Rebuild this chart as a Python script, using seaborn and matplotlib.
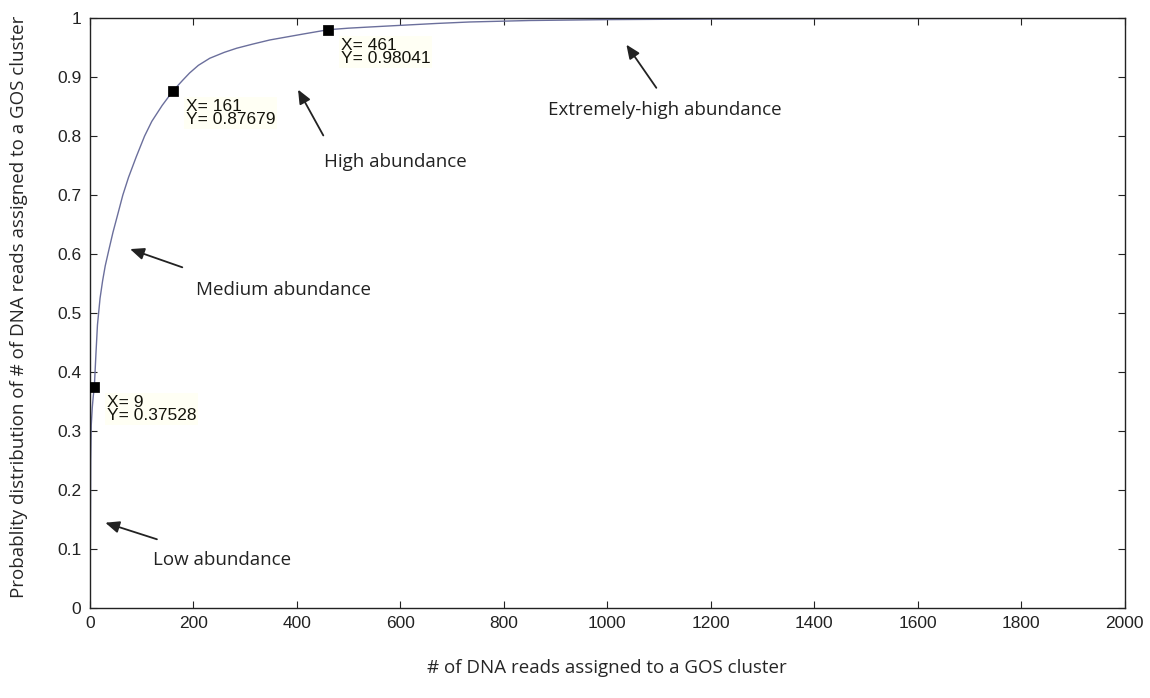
import matplotlib
matplotlib.use("Agg")
import matplotlib.pyplot as plt
import seaborn as sns
import pandas as pd

# Cumulative share of reads vs. number of reads per GOS cluster
reads = [0, 1, 2, 3, 5, 7, 9, 12, 15, 20, 25, 30, 37, 45, 55, 64, 75, 90, 106,
         120, 140, 161, 180, 193, 210, 232, 260, 284, 315, 348, 380, 412, 461,
         500, 541, 605, 670, 734, 850, 1000, 1200, 1500, 1800, 2000]
prob = [0.0, 0.05, 0.25, 0.31, 0.34, 0.36, 0.37528, 0.43, 0.48, 0.525, 0.555, 0.58,
        0.607, 0.637, 0.67, 0.70, 0.73, 0.765, 0.80,
        0.825, 0.852, 0.87679, 0.895, 0.907, 0.92, 0.932, 0.942, 0.949, 0.956,
        0.963, 0.968, 0.973, 0.98041,
        0.983, 0.985, 0.988, 0.991, 0.9935, 0.996, 0.9975, 0.9985, 0.9993,
        0.9998, 1.0]

# Highlighted data tips
tip_x = [9, 161, 461]
tip_y = [0.37528, 0.87679, 0.98041]

# Abundance regions: label text, label position, arrow tail and arrow head
region_labels = ["Low abundance", "Medium abundance", "High abundance",
                 "Extremely-high abundance"]
label_x = [255, 375, 591, 1111]
label_y = [0.081, 0.539, 0.756, 0.844]
arrow_head_x = [25, 73, 400, 1034]
arrow_head_y = [0.146, 0.610, 0.883, 0.959]
arrow_tail_x = [135, 184, 454, 1098]
arrow_tail_y = [0.115, 0.576, 0.797, 0.878]

x_ticks = list(range(0, 2001, 200))
y_ticks = [0, 0.1, 0.2, 0.3, 0.4, 0.5, 0.6, 0.7, 0.8, 0.9, 1]
y_tick_labels = ["0", "0.1", "0.2", "0.3", "0.4", "0.5", "0.6", "0.7", "0.8", "0.9", "1"]

sns.set_theme(style="ticks")
plt.rcParams["font.family"] = ["Liberation Sans", "DejaVu Sans"]

fig = plt.figure(figsize=(11.5, 6.98), dpi=100)
ax = fig.add_axes([0.078, 0.129, 0.9, 0.845])

df = pd.DataFrame({"reads": reads, "prob": prob})
sns.lineplot(data=df, x="reads", y="prob", ax=ax, color="#6b6f9c", linewidth=1.0)

sns.scatterplot(x=tip_x, y=tip_y, ax=ax, marker="s", color="black", s=45,
                edgecolor="black", zorder=5)

for tx, ty in zip(tip_x, tip_y):
    ax.annotate(f"X= {tx}\nY= {ty:.5f}", xy=(tx, ty), xytext=(9, -6),
                textcoords="offset points", ha="left", va="top",
                fontsize=12.5, color="#14140c", linespacing=0.82,
                bbox=dict(boxstyle="square,pad=0.1", facecolor="#fffff4",
                          edgecolor="none"))

for txt, lx, ly, hx, hy, sx, sy in zip(region_labels, label_x, label_y,
                                       arrow_head_x, arrow_head_y,
                                       arrow_tail_x, arrow_tail_y):
    ax.text(lx, ly, txt, ha="center", va="center", fontsize=13.5,
            family=["Open Sans", "DejaVu Sans"], color="#222222")
    ax.annotate("", xy=(hx, hy), xytext=(sx, sy),
                arrowprops=dict(arrowstyle="-|>,head_length=0.7,head_width=0.3",
                                color="#222222", lw=1.3))

ax.set_xlim(0, 2000)
ax.set_ylim(0, 1)
ax.set_xticks(x_ticks)
ax.set_yticks(y_ticks)
ax.set_yticklabels(y_tick_labels)
ax.tick_params(direction="in", top=True, right=True, length=5, width=0.8,
               labelsize=12.5, colors="#222222", pad=6)
for sp in ax.spines.values():
    sp.set_visible(True)
    sp.set_color("#222222")
    sp.set_linewidth(1.0)

ax.set_xlabel("# of DNA reads assigned to a GOS cluster", fontsize=13.5,
              family=["Open Sans", "DejaVu Sans"], labelpad=20)
ax.set_ylabel("Probablity distribution of # of DNA reads assigned to a GOS cluster",
              fontsize=13.5, family=["Open Sans", "DejaVu Sans"])
ax.yaxis.set_label_coords(-0.06, 0.51)

fig.savefig("out.png", dpi=100)
